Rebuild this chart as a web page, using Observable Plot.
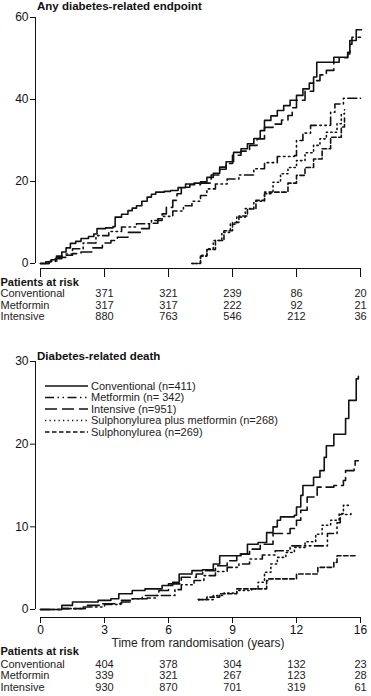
<!DOCTYPE html>
<html><head><meta charset="utf-8">
<script src="https://cdn.jsdelivr.net/npm/d3@7"></script>
<script src="https://cdn.jsdelivr.net/npm/@observablehq/plot@0.6"></script>
<style>
body{margin:0;background:#fff;font-family:"Liberation Sans",Arial,sans-serif;color:#111;}
#wrap{position:relative;width:371px;height:696px;overflow:hidden;}
.abs{position:absolute;left:0;}
.title{position:absolute;left:37px;font-weight:bold;font-size:11.5px;line-height:13px;white-space:nowrap;}
</style></head><body>
<div id="wrap">
  <div id="p1" class="abs" style="top:0px"></div>
  <div id="p2" class="abs" style="top:340px"></div>
  <div id="legend" class="abs" style="top:378px"></div>
  <div class="title" style="top:0px">Any diabetes-related endpoint</div>
  <div class="title" style="top:350px">Diabetes-related death</div>
</div>
<script>
// ---- axis ticks ----
const xTicks = [0, 3, 6, 9, 12, 15];
const xTickLabels = ["0", "3", "6", "9", "12", "16"];
const yTicksTop = [0, 20, 40, 60];
const yTicksBottom = [0, 10, 20, 30];
const xTitle = "Time from randomisation (years)";

// ---- patients at risk ----
const riskTimes = [3, 6, 9, 12, 15];
const riskGroups = ["Conventional", "Metformin", "Intensive"];
const riskTopConventional = [371, 321, 239, 86, 20];
const riskTopMetformin = [317, 317, 222, 92, 21];
const riskTopIntensive = [880, 763, 546, 212, 36];
const riskBottomConventional = [404, 378, 304, 132, 23];
const riskBottomMetformin = [339, 321, 267, 123, 28];
const riskBottomIntensive = [930, 870, 701, 319, 61];

// ---- series: [years, cumulative %] ----
const topConventional = [[0,0],[0.25,0.4],[0.5,0.9],[0.75,1.8],[1.0,2.8],[1.2,3.8],[1.4,4.9],[1.65,5.4],[1.9,6.1],[2.25,6.6],[2.5,7.2],[2.65,8.5],[3.05,8.7],[3.4,9.0],[3.5,11.3],[3.8,12.0],[4.1,12.9],[4.3,13.5],[4.5,14.1],[4.75,15.2],[5.0,16.2],[5.2,16.9],[5.4,17.4],[5.8,17.6],[6.1,17.8],[6.45,18.5],[6.8,19.4],[7.2,19.6],[7.5,19.9],[7.8,21.0],[8.1,22.0],[8.4,23.5],[8.7,24.8],[9.05,27.1],[9.4,28.0],[9.7,29.2],[10.0,30.5],[10.3,32.4],[10.5,34.9],[10.8,36.0],[11.1,37.3],[11.4,38.5],[11.7,39.8],[12.0,41.0],[12.3,42.6],[12.6,44.0],[12.8,45.5],[12.95,49.1],[13.75,50.3],[14.4,51.5],[14.5,54.4],[14.8,57.0],[15.05,57.0]];
const topMetformin = [[0,0],[0.4,0.6],[0.8,1.5],[1.2,2.3],[1.5,3.6],[2.0,5.0],[2.6,6.8],[3.2,7.8],[3.8,8.9],[4.5,9.7],[5.2,10.5],[5.7,11.5],[6.2,12.8],[6.7,14.1],[7.1,15.2],[7.5,16.6],[7.8,18.2],[8.2,19.4],[8.75,20.6],[9.3,21.6],[10.0,23.1],[10.5,24.6],[11.1,26.1],[11.9,26.3],[12.0,30.0],[12.3,31.8],[12.66,33.7],[13.4,33.7],[13.6,36.9],[13.8,38.9],[14.2,40.3],[15.0,40.3]];
const topIntensive = [[0,0],[0.4,0.5],[0.7,1.2],[1.0,2.0],[1.5,2.4],[1.9,2.8],[2.4,3.8],[2.9,5.0],[3.3,5.6],[3.6,6.4],[4.1,7.6],[4.7,8.5],[5.1,9.8],[5.5,10.9],[5.7,12.1],[5.9,13.7],[6.2,15.4],[6.4,17.0],[6.6,18.6],[7.0,19.2],[7.5,19.6],[8.0,21.6],[8.4,23.0],[8.7,24.4],[9.0,26.4],[9.4,27.4],[9.8,28.8],[10.15,30.4],[10.5,33.2],[10.9,34.0],[11.3,35.0],[11.6,36.1],[11.8,38.0],[12.0,39.8],[12.4,42.0],[12.8,44.6],[13.1,46.0],[13.4,47.1],[13.75,49.1],[14.0,50.2],[14.4,51.1],[14.5,53.5],[14.6,55.2],[15.0,55.2]];
const topSulphMet = [[7.1,0],[7.5,2.0],[7.8,3.6],[8.1,5.6],[8.5,7.6],[8.9,9.6],[9.2,11.3],[9.6,13.4],[10.0,15.2],[10.5,17.4],[10.9,19.8],[11.25,21.9],[11.6,23.4],[12.0,25.1],[12.4,27.0],[12.8,28.8],[13.1,30.4],[13.4,32.0],[13.9,34.1],[14.1,36.5],[14.25,37.5]];
const topSulph = [[7.1,0],[7.5,1.8],[7.8,3.4],[8.2,5.6],[8.6,8.0],[9.0,10.0],[9.3,11.6],[9.7,13.3],[10.1,15.4],[10.5,17.0],[10.8,17.4],[11.25,17.4],[11.6,19.6],[12.0,21.5],[12.4,23.4],[12.8,25.5],[13.2,28.0],[13.6,30.8],[14.1,33.3],[14.25,35.5]];

const botConventional = [[0,0],[1.0,0.5],[1.5,0.9],[2.7,1.1],[3.3,1.3],[3.67,1.9],[4.3,2.3],[4.9,2.5],[5.7,2.9],[6.2,3.3],[6.5,4.3],[7.1,4.7],[7.6,4.8],[8.1,5.5],[8.4,6.5],[9.4,6.7],[9.7,7.9],[10.2,8.1],[10.6,9.3],[10.9,10.0],[11.1,10.8],[11.25,11.2],[11.9,11.4],[12.0,12.4],[12.2,13.8],[12.3,15.0],[12.8,16.0],[13.1,16.8],[13.3,18.4],[13.4,19.8],[13.75,21.2],[14.3,23.1],[14.45,25.3],[14.8,27.9],[14.9,28.2]];
const botMetformin = [[0,0],[1.0,0.1],[2.0,0.3],[3.0,0.6],[3.75,1.1],[4.3,1.3],[5.0,1.4],[5.4,1.7],[5.7,1.7],[6.3,2.4],[6.6,3.0],[6.9,3.0],[7.2,3.5],[7.66,4.1],[8.2,4.6],[8.75,5.1],[9.3,5.5],[9.8,6.1],[10.4,6.6],[11.0,7.1],[11.7,7.7],[13.4,7.7],[13.45,9.2],[13.9,10.5],[14.05,11.5],[14.55,11.6]];
const botIntensive = [[0,0],[1.0,0.1],[2.1,0.5],[2.9,0.7],[3.8,0.9],[4.3,1.3],[4.77,1.7],[5.55,2.3],[6.0,3.1],[6.6,3.9],[7.3,4.3],[7.6,4.7],[8.2,5.3],[8.75,5.9],[9.2,6.7],[9.8,7.3],[10.3,7.9],[10.9,9.2],[11.7,9.8],[12.0,10.8],[12.2,12.0],[12.5,13.6],[12.97,14.8],[13.75,15.0],[14.2,15.6],[14.3,16.8],[14.7,17.2],[14.75,18.0],[14.9,18.0]];
const botSulphMet = [[7.4,1.2],[8.1,1.7],[8.6,2.0],[9.2,2.3],[9.9,2.5],[10.2,3.3],[10.5,4.5],[10.8,5.5],[11.1,6.3],[11.5,6.9],[11.9,7.5],[12.4,8.2],[12.9,9.1],[13.2,10.2],[13.6,10.8],[14.0,11.6],[14.2,12.6],[14.55,12.6]];
const botSulph = [[7.4,1.2],[7.8,1.5],[8.4,1.9],[9.2,2.5],[10.3,2.5],[10.6,3.5],[10.7,3.7],[11.9,3.7],[12.0,4.3],[12.8,4.3],[13.0,5.1],[13.6,5.1],[13.75,5.7],[13.9,6.5],[14.85,6.5]];

// ---- legend ----
const legendLabels = ["Conventional (n=411)", "Metformin (n= 342)", "Intensive (n=951)", "Sulphonylurea plus metformin (n=268)", "Sulphonylurea (n=269)"];

// styles
const dashes = {
  conv: null,
  met: "9,3.5,1.5,3.5,1.5,3.5",
  int: "12,5",
  sm: "1.3,3.2",
  su: "4.5,2.5"
};
const legendDashes = [dashes.conv, dashes.met, dashes.int, dashes.sm, dashes.su];
const ink = "#111";
const font = "'Liberation Sans', Arial, sans-serif";

function curve(data, dash) {
  return Plot.line(data, {x: d => d[0], y: d => d[1], curve: "step-after", stroke: ink, strokeWidth: 1.6, strokeDasharray: dash || undefined});
}
function riskMarks(values, rowDy, headDy) {
  const ms = [Plot.text(["Patients at risk"], {frameAnchor: "bottom-left", textAnchor: "start", dx: -35, dy: headDy, fontWeight: "bold", fontSize: 11, fill: ink})];
  values.forEach((arr, r) => {
    ms.push(Plot.text([riskGroups[r]], {frameAnchor: "bottom-left", textAnchor: "start", dx: -35, dy: rowDy[r], fontSize: 11, fill: "#222"}));
    ms.push(Plot.text(riskTimes, {x: d => d, text: (d, i) => String(arr[i]), frameAnchor: "bottom", dy: rowDy[r], fontSize: 11, fill: "#222"}));
  });
  return ms;
}

const p1 = Plot.plot({
  width: 371, height: 326,
  marginTop: 17, marginLeft: 35, marginRight: 11, marginBottom: 58,
  insetLeft: 5, insetBottom: 5,
  style: {background: "transparent", fontFamily: font, fontSize: "12px", color: ink},
  x: {domain: [0, 15]},
  y: {domain: [0, 60]},
  marks: [
    Plot.axisY({ticks: yTicksTop, tickSize: 5, tickPadding: 2, label: null, fontSize: 12}),
    Plot.axisX({ticks: xTicks, tickSize: 9, tickFormat: () => "", label: null}),
    Plot.ruleX([0], {y1: 0, y2: 60, dx: -5, stroke: ink}),
    Plot.ruleY([0], {x1: 0, x2: 15, dy: 5, stroke: ink}),
    curve(topConventional, dashes.conv),
    curve(topMetformin, dashes.met),
    curve(topIntensive, dashes.int),
    curve(topSulphMet, dashes.sm),
    curve(topSulph, dashes.su),
    ...riskMarks([riskTopConventional, riskTopMetformin, riskTopIntensive], [28.5, 40, 51.5], 17)
  ]
});
document.getElementById("p1").appendChild(p1);

const p2 = Plot.plot({
  width: 371, height: 356,
  marginTop: 21, marginLeft: 35, marginRight: 11, marginBottom: 79,
  insetLeft: 5, insetBottom: 8,
  style: {background: "transparent", fontFamily: font, fontSize: "12px", color: ink},
  x: {domain: [0, 15]},
  y: {domain: [0, 30]},
  marks: [
    Plot.axisY({ticks: yTicksBottom, tickSize: 5, tickPadding: 2, label: null, fontSize: 12}),
    Plot.axisX({ticks: xTicks, tickSize: 6, tickPadding: 1.5, tickFormat: (d, i) => xTickLabels[xTicks.indexOf(d)], label: null, fontSize: 12}),
    Plot.ruleX([0], {y1: 0, y2: 30, dx: -5, stroke: ink}),
    Plot.ruleY([0], {x1: 0, x2: 15, dy: 8, stroke: ink}),
    Plot.text([xTitle], {frameAnchor: "bottom", dy: 29, fontSize: 12, fill: "#222"}),
    curve(botConventional, dashes.conv),
    curve(botMetformin, dashes.met),
    curve(botIntensive, dashes.int),
    curve(botSulphMet, dashes.sm),
    curve(botSulph, dashes.su),
    ...riskMarks([riskBottomConventional, riskBottomMetformin, riskBottomIntensive], [50, 61.5, 73], 37.5)
  ]
});
document.getElementById("p2").appendChild(p2);

// legend (drawn with d3)
const lg = d3.select("#legend").append("svg").attr("width", 371).attr("height", 70);
legendLabels.forEach((lab, i) => {
  const y = 8 + i * 11.5;
  lg.append("line").attr("x1", 45).attr("x2", 88).attr("y1", y).attr("y2", y)
    .attr("stroke", ink).attr("stroke-width", 1.6)
    .attr("stroke-dasharray", legendDashes[i] || null);
  lg.append("text").attr("x", 91).attr("y", y).attr("dy", "0.35em")
    .attr("font-family", font).attr("font-size", 11).attr("fill", "#222").text(lab);
});
</script>
</body></html>
